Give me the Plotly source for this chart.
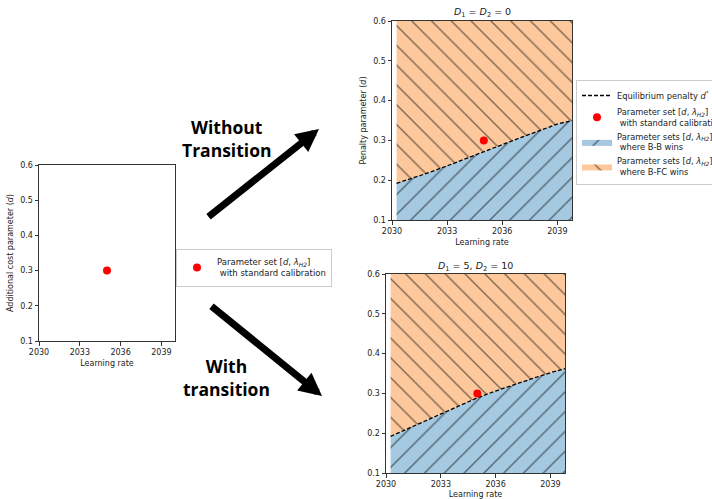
import plotly.graph_objects as go

# ---------------- data ----------------
years = [2030.25, 2031, 2032, 2033, 2034, 2035, 2036, 2037, 2038, 2039, 2039.8]
d_star_no_transition = [0.192, 0.203, 0.219, 0.236, 0.254, 0.273, 0.290, 0.307, 0.324, 0.341, 0.350]
d_star_transition = [0.192, 0.207, 0.228, 0.247, 0.268, 0.289, 0.306, 0.322, 0.337, 0.352, 0.362]
d_low = 0.1
d_high = 0.6
std_year = [2035]
std_d = [0.3]
x_ticks = [2030, 2033, 2036, 2039]
y_ticks = [0.1, 0.2, 0.3, 0.4, 0.5, 0.6]

W, H = 712, 499
FONT = "DejaVu Sans"
BLUE = "#a5c9e1"
ORANGE = "#fdc99c"
RED = "#ff0000"
TXT = "#222222"
HATCH = dict(fgcolor="black", size=14, solidity=0.1)


def px_x(a, b):
    return [a / W, b / W]


def px_y(top, bottom):
    return [1 - bottom / H, 1 - top / H]


fig = go.Figure()


def add_panel(xa, ya, d_star, show_legend):
    n = len(years)
    fig.add_trace(go.Scatter(x=years, y=[d_low] * n, mode="lines", line=dict(width=0),
                             xaxis=xa, yaxis=ya, showlegend=False, hoverinfo="skip"))
    fig.add_trace(go.Scatter(
        x=years, y=d_star, mode="lines", line=dict(width=0), fill="tonexty",
        fillcolor=BLUE,
        fillpattern=dict(HATCH, shape="/", bgcolor=BLUE),
        xaxis=xa, yaxis=ya, name="Parameter sets [<i>d</i>, <i>λ<sub>H2</sub></i>]<br> where B-B wins",
        showlegend=show_legend, legendrank=3, legend="legend"))
    fig.add_trace(go.Scatter(
        x=years, y=[d_high] * n, mode="lines", line=dict(width=0), fill="tonexty",
        fillcolor=ORANGE,
        fillpattern=dict(HATCH, shape="\\", bgcolor=ORANGE),
        xaxis=xa, yaxis=ya, name="Parameter sets [<i>d</i>, <i>λ<sub>H2</sub></i>]<br> where B-FC wins",
        showlegend=show_legend, legendrank=4, legend="legend"))
    fig.add_trace(go.Scatter(
        x=years, y=d_star, mode="lines", line=dict(color="black", width=1.3, dash="4px,2px"),
        xaxis=xa, yaxis=ya, name="Equilibrium penalty <i>d</i><sup>*</sup>",
        showlegend=show_legend, legendrank=1, legend="legend"))
    fig.add_trace(go.Scatter(
        x=std_year, y=std_d, mode="markers", marker=dict(color=RED, size=8),
        xaxis=xa, yaxis=ya, name="Parameter set [<i>d</i>, <i>λ<sub>H2</sub></i>]<br> with standard calibration",
        showlegend=show_legend, legendrank=2, legend="legend"))


# left panel: only the point
fig.add_trace(go.Scatter(
    x=std_year, y=std_d, mode="markers", marker=dict(color=RED, size=8),
    xaxis="x", yaxis="y", name="Parameter set [<i>d</i>, <i>λ<sub>H2</sub></i>]<br> with standard calibration",
    showlegend=True, legend="legend2"))

add_panel("x2", "y2", d_star_no_transition, True)
add_panel("x3", "y3", d_star_transition, False)

axis_common = dict(showline=True, mirror=True, linecolor="#333333", linewidth=1,
                   ticks="outside", ticklen=3.5, tickwidth=1, tickcolor="#333333",
                   showgrid=False, zeroline=False, automargin=False,
                   tickfont=dict(family=FONT, size=8, color=TXT))

xaxis_common = dict(axis_common, tickvals=x_ticks, ticktext=[str(v) for v in x_ticks],
                    title=dict(text="Learning rate", font=dict(family=FONT, size=8, color=TXT), standoff=4))
yaxis_common = dict(axis_common, tickvals=y_ticks, tickformat=".1f", range=[d_low, d_high])

fig.update_layout(
    width=W, height=H,
    margin=dict(l=0, r=0, t=0, b=0, autoexpand=False),
    paper_bgcolor="white", plot_bgcolor="white",
    font=dict(family=FONT, color=TXT),
    xaxis=dict(xaxis_common, domain=px_x(39, 175), range=[2030, 2040], anchor="y"),
    yaxis=dict(yaxis_common, domain=px_y(165, 341), anchor="x",
               title=dict(text="Additional cost parameter (<i>d</i>)",
                          font=dict(family=FONT, size=8, color=TXT), standoff=5)),
    xaxis2=dict(xaxis_common, domain=px_x(392, 572), range=[2030, 2039.8], anchor="y2"),
    yaxis2=dict(yaxis_common, domain=px_y(21, 220), anchor="x2",
                title=dict(text="Penalty parameter (<i>d</i>)",
                           font=dict(family=FONT, size=8, color=TXT), standoff=5)),
    xaxis3=dict(xaxis_common, domain=px_x(386, 565), range=[2030, 2039.8], anchor="y3"),
    yaxis3=dict(yaxis_common, domain=px_y(274, 473), anchor="x3"),
    legend=dict(x=576 / W, y=1 - 80 / H, xanchor="left", yanchor="top",
                bordercolor="#cccccc", borderwidth=1, bgcolor="white",
                font=dict(family=FONT, size=8.3, color=TXT), traceorder="normal",
                tracegroupgap=0, itemwidth=30),
    legend2=dict(x=176 / W, y=1 - 249 / H, xanchor="left", yanchor="top",
                 bordercolor="#cccccc", borderwidth=1, bgcolor="white",
                 font=dict(family=FONT, size=8.5, color=TXT), itemwidth=30),
    showlegend=True,
)

annotations = [
    dict(text="<i>D</i><sub>1</sub> = <i>D</i><sub>2</sub> = 0", x=482 / W, y=1 - 12 / H,
         xref="paper", yref="paper", showarrow=False, xanchor="center", yanchor="middle",
         font=dict(family=FONT, size=9.5, color=TXT)),
    dict(text="<i>D</i><sub>1</sub> = 5, <i>D</i><sub>2</sub> = 10", x=475 / W, y=1 - 266 / H,
         xref="paper", yref="paper", showarrow=False, xanchor="center", yanchor="middle",
         font=dict(family=FONT, size=9.5, color=TXT)),
]
big = dict(family="Open Sans", size=17.5, color="black", weight=700)
for txt, cx, cy in [("Without<br>Transition", 226, 138), ("With<br>transition", 227, 377)]:
    annotations.append(dict(text=txt, x=cx / W, y=1 - cy / H, xref="paper", yref="paper",
                            showarrow=False, font=big, xanchor="center", yanchor="middle",
                            align="center"))
for (tx, ty), (hx, hy) in [((207, 218), (319, 129)), ((210, 305), (322, 396))]:
    annotations.append(dict(text="", x=hx / W, y=1 - hy / H, ax=tx - hx, ay=ty - hy,
                            xref="paper", yref="paper", axref="pixel", ayref="pixel",
                            showarrow=True, arrowhead=2, arrowwidth=7, arrowsize=0.65,
                            arrowcolor="black"))
fig.update_layout(annotations=annotations)

fig.write_html("out.html", config={"displayModeBar": False},
               post_script="document.body.style.margin='0';document.body.style.overflow='hidden';")
